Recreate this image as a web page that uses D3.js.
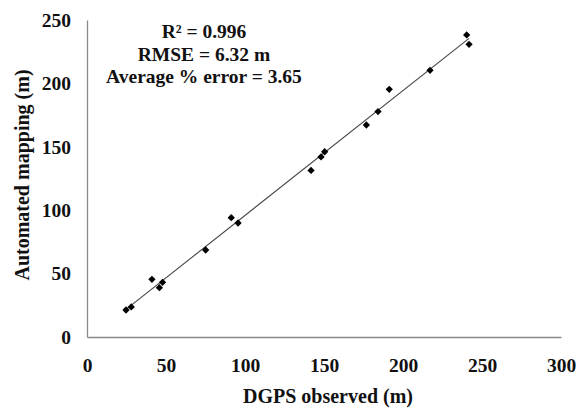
<!DOCTYPE html>
<html>
<head>
<meta charset="utf-8">
<script src="https://cdn.jsdelivr.net/npm/d3@7"></script>
<style>
  body { margin: 0; background: #fff; }
  text { font-family: "Liberation Serif", "Times New Roman", serif; font-weight: bold; fill: #111; }
</style>
</head>
<body>
<div id="chart"></div>
<script>
// values
const observed = [24.7, 28, 41.1, 45.8, 47.8, 75.1, 91.3, 95.6, 141.8, 148.1, 150.4, 176.8, 184.2, 191.3, 217.1, 240.3, 241.8]
const mapped   = [21.3, 23.7, 45.5, 38.9, 43.1, 68.6, 94.1, 89.9, 131.4, 142, 146.1, 167.2, 177.8, 195.3, 210.3, 238.2, 230.8]
const xTicks = [0, 50, 100, 150, 200, 250, 300]
const yTicks = [0, 50, 100, 150, 200, 250]
const statLines = ["R\u00b2 = 0.996", "RMSE = 6.32 m", "Average % error = 3.65"]

const width = 582, height = 408
const margin = {top: 20, right: 21, bottom: 71, left: 87}

const svg = d3.select("#chart").append("svg")
  .attr("width", width)
  .attr("height", height)

const x = d3.scaleLinear().domain([0, 300]).range([margin.left, width - margin.right])
const y = d3.scaleLinear().domain([0, 250]).range([height - margin.bottom, margin.top])

// axes, no tick marks
svg.append("g")
  .attr("transform", `translate(0,${y(0)})`)
  .call(d3.axisBottom(x).tickValues(xTicks).tickSize(0).tickPadding(21))
svg.append("g")
  .attr("transform", `translate(${x(0)},0)`)
  .call(d3.axisLeft(y).tickValues(yTicks).tickSize(0).tickPadding(16))

svg.selectAll(".domain").attr("stroke", "#8a8a8a").attr("stroke-width", 1.3)
svg.selectAll(".tick text")
  .style("font-family", "'Liberation Serif', 'Times New Roman', serif")
  .style("font-weight", "bold")
  .style("font-size", "19.5px")
  .attr("fill", "#111")

// trend line (least squares from the points)
const mx = d3.mean(observed), my = d3.mean(mapped)
const slope = d3.sum(observed, (d, i) => (d - mx) * (mapped[i] - my)) / d3.sum(observed, d => (d - mx) * (d - mx))
const icpt = my - slope * mx
const x0 = d3.min(observed), x1 = d3.max(observed)
svg.append("line")
  .attr("x1", x(x0)).attr("y1", y(icpt + slope * x0))
  .attr("x2", x(x1)).attr("y2", y(icpt + slope * x1))
  .attr("stroke", "#444")
  .attr("stroke-width", 1.1)

// points
svg.append("g")
  .selectAll("path")
  .data(observed)
  .join("path")
    .attr("d", d3.symbol().type(d3.symbolDiamond2).size(34))
    .attr("transform", (d, i) => `translate(${x(d)},${y(mapped[i])})`)
    .attr("fill", "#000")

// stats text
svg.append("g")
  .selectAll("text")
  .data(statLines)
  .join("text")
    .attr("x", 204)
    .attr("y", (d, i) => 38 + i * 22.5)
    .attr("text-anchor", "middle")
    .style("font-size", "19.5px")
    .text(d => d)

// axis titles
svg.append("text")
  .attr("x", 328)
  .attr("y", 403)
  .attr("text-anchor", "middle")
  .style("font-size", "20px")
  .text("DGPS observed (m)")

svg.append("text")
  .attr("transform", `translate(29,175) rotate(-90)`)
  .attr("text-anchor", "middle")
  .style("font-size", "20px")
  .text("Automated mapping (m)")
</script>
</body>
</html>
